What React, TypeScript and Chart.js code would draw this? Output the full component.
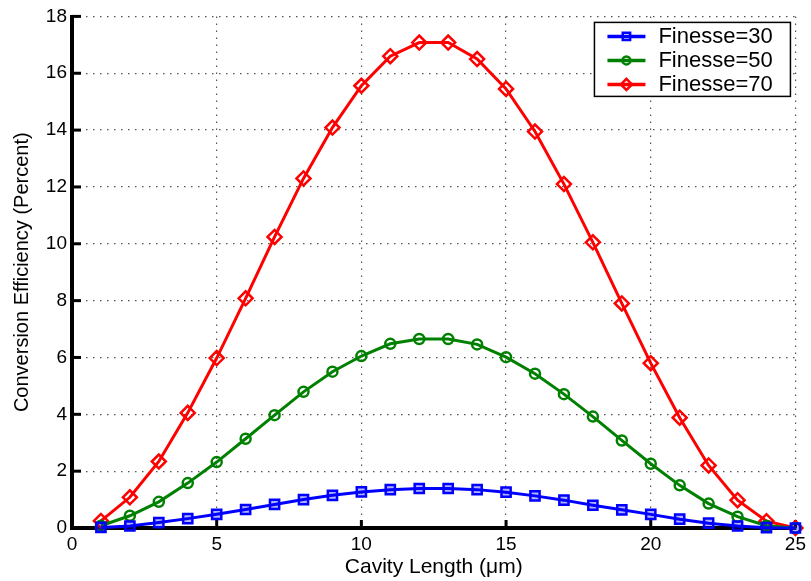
import React, { useEffect, useRef } from "react";
import { Chart, registerables } from "chart.js";

Chart.register(...registerables);

const cavityLength = [1, 2, 3, 4, 5, 6, 7, 8, 9, 10, 11, 12, 13, 14, 15, 16, 17, 18, 19, 20, 21, 22, 23, 24, 25];
const finesse30 = [0.02, 0.07, 0.19, 0.33, 0.48, 0.65, 0.83, 1.0, 1.15, 1.27, 1.35, 1.39, 1.39, 1.35, 1.26, 1.13, 0.98, 0.8, 0.64, 0.48, 0.31, 0.17, 0.07, 0.01, 0.0];
const finesse50 = [0.08, 0.43, 0.92, 1.58, 2.32, 3.14, 3.97, 4.79, 5.5, 6.05, 6.48, 6.65, 6.65, 6.46, 6.01, 5.43, 4.71, 3.92, 3.08, 2.26, 1.5, 0.86, 0.4, 0.08, 0.0];
const finesse70 = [0.25, 1.08, 2.34, 4.05, 5.98, 8.08, 10.24, 12.3, 14.09, 15.56, 16.6, 17.08, 17.08, 16.5, 15.45, 13.95, 12.1, 10.05, 7.9, 5.8, 3.88, 2.2, 0.98, 0.24, 0.0];
const seriesLabels = ["Finesse=30", "Finesse=50", "Finesse=70"];
const xTitle = "Cavity Length (\u03bcm)";
const yTitle = "Conversion Efficiency (Percent)";

const FONT = "'Liberation Sans', Arial, Helvetica, sans-serif";

function drawMarker(ctx: CanvasRenderingContext2D, style: string, x: number, y: number, r: number) {
  ctx.beginPath();
  if (style === "rect") {
    const s = r * Math.SQRT1_2;
    ctx.rect(x - s, y - s, 2 * s, 2 * s);
  } else if (style === "circle") {
    ctx.arc(x, y, r, 0, Math.PI * 2);
  } else {
    ctx.moveTo(x, y - r);
    ctx.lineTo(x + r, y);
    ctx.lineTo(x, y + r);
    ctx.lineTo(x - r, y);
    ctx.closePath();
  }
  ctx.stroke();
}

const axesPlugin = {
  id: "matlabAxes",
  beforeDatasetsDraw(chart: any) {
    const { ctx, chartArea } = chart;
    const { left, right, top, bottom } = chartArea;
    const xs = chart.scales.x;
    const ys = chart.scales.y;
    ctx.save();
    ctx.strokeStyle = "#000";
    ctx.lineCap = "butt";
    ctx.lineWidth = 3;
    ys.ticks.forEach((t: any) => {
      const py = ys.getPixelForValue(t.value);
      ctx.beginPath();
      ctx.moveTo(left, py);
      ctx.lineTo(left + 9, py);
      ctx.stroke();
    });
    xs.ticks.forEach((t: any) => {
      const px = xs.getPixelForValue(t.value);
      ctx.beginPath();
      ctx.moveTo(px, bottom);
      ctx.lineTo(px, bottom - 8);
      ctx.stroke();
    });
    ctx.lineWidth = 4;
    ctx.beginPath();
    ctx.moveTo(left, top - 1.5);
    ctx.lineTo(left, bottom + 2);
    ctx.stroke();
    ctx.beginPath();
    ctx.moveTo(left - 2, bottom);
    ctx.lineTo(right + 1, bottom);
    ctx.stroke();
    ctx.restore();
  },
  afterDraw(chart: any) {
    const { ctx, chartArea } = chart;
    const boxRight = chartArea.right - 5;
    const boxTop = chartArea.top + 6;
    const boxW = 196;
    const boxH = 74;
    const boxLeft = boxRight - boxW;
    ctx.save();
    ctx.fillStyle = "#fff";
    ctx.fillRect(boxLeft, boxTop, boxW, boxH);
    ctx.strokeStyle = "#000";
    ctx.lineWidth = 1.5;
    ctx.strokeRect(boxLeft, boxTop, boxW, boxH);
    chart.data.datasets.forEach((ds: any, i: number) => {
      const cy = boxTop + 14 + i * 24;
      const x0 = boxLeft + 13;
      const x1 = boxLeft + 51;
      ctx.strokeStyle = ds.borderColor;
      ctx.lineWidth = ds.borderWidth + 0.5;
      ctx.beginPath();
      ctx.moveTo(x0, cy);
      ctx.lineTo(x1, cy);
      ctx.stroke();
      ctx.lineWidth = ds.pointBorderWidth;
      drawMarker(ctx, ds.pointStyle, (x0 + x1) / 2, cy, ds.pointRadius * 0.8);
      ctx.fillStyle = "#000";
      ctx.font = `22px ${FONT}`;
      ctx.textAlign = "left";
      ctx.textBaseline = "middle";
      ctx.fillText(ds.label, boxLeft + 64, cy + 1);
    });
    ctx.restore();
  },
};

export default function App() {
  const canvasRef = useRef<HTMLCanvasElement | null>(null);

  useEffect(() => {
    document.body.style.margin = "0";
    const canvas = canvasRef.current;
    if (!canvas) return;
    const mk = (vals: number[]) => cavityLength.map((x, i) => ({ x, y: vals[i] }));
    const chart = new Chart(canvas, {
      type: "line",
      data: {
        datasets: [
          {
            label: seriesLabels[0],
            data: mk(finesse30),
            borderColor: "#0000ff",
            backgroundColor: "transparent",
            borderWidth: 3,
            pointStyle: "rect",
            pointRadius: 6.5,
            pointBorderWidth: 2.5,
            pointBorderColor: "#0000ff",
            pointBackgroundColor: "rgba(0,0,255,0.3)",
            clip: false,
          },
          {
            label: seriesLabels[1],
            data: mk(finesse50),
            borderColor: "#008000",
            backgroundColor: "transparent",
            borderWidth: 3,
            pointStyle: "circle",
            pointRadius: 5,
            pointBorderWidth: 2.5,
            pointBorderColor: "#008000",
            pointBackgroundColor: "transparent",
            clip: false,
          },
          {
            label: seriesLabels[2],
            data: mk(finesse70),
            borderColor: "#ff0000",
            backgroundColor: "transparent",
            borderWidth: 3,
            pointStyle: "rectRot",
            pointRadius: 7,
            pointBorderWidth: 2.5,
            pointBorderColor: "#ff0000",
            pointBackgroundColor: "transparent",
            clip: false,
          },
        ] as any,
      },
      options: {
        responsive: false,
        animation: false,
        layout: { padding: { left: 0, top: 13, right: 14, bottom: 0 } },
        plugins: {
          legend: { display: false },
          tooltip: { enabled: false },
        },
        scales: {
          x: {
            type: "linear",
            min: 0,
            max: 25,
            ticks: { stepSize: 5, color: "#000", font: { size: 19, family: FONT }, padding: 5, maxRotation: 0 },
            grid: { color: "#555", lineWidth: 1.2, drawTicks: false },
            border: { display: false, dash: [1.5, 5.5] },
            title: { display: true, text: xTitle, color: "#000", font: { size: 21, family: FONT }, padding: { top: 0, bottom: 1 } },
            afterFit: (s: any) => { s.height = 53; },
          },
          y: {
            type: "linear",
            min: 0,
            max: 18,
            ticks: { stepSize: 2, color: "#000", font: { size: 19, family: FONT }, padding: 5 },
            grid: { color: "#555", lineWidth: 1.2, drawTicks: false },
            border: { display: false, dash: [1.5, 5.5] },
            title: { display: true, text: yTitle, color: "#000", font: { size: 20, family: FONT }, padding: { top: 10, bottom: 0 } },
            afterFit: (s: any) => { s.width = 72; },
          },
        },
      } as any,
      plugins: [axesPlugin],
    });
    return () => chart.destroy();
  }, []);

  return (
    <div style={{ position: "absolute", left: 0, top: 0, width: 811, height: 581, background: "#fff" }}>
      <canvas ref={canvasRef} width={811} height={581} style={{ display: "block" }} />
    </div>
  );
}
